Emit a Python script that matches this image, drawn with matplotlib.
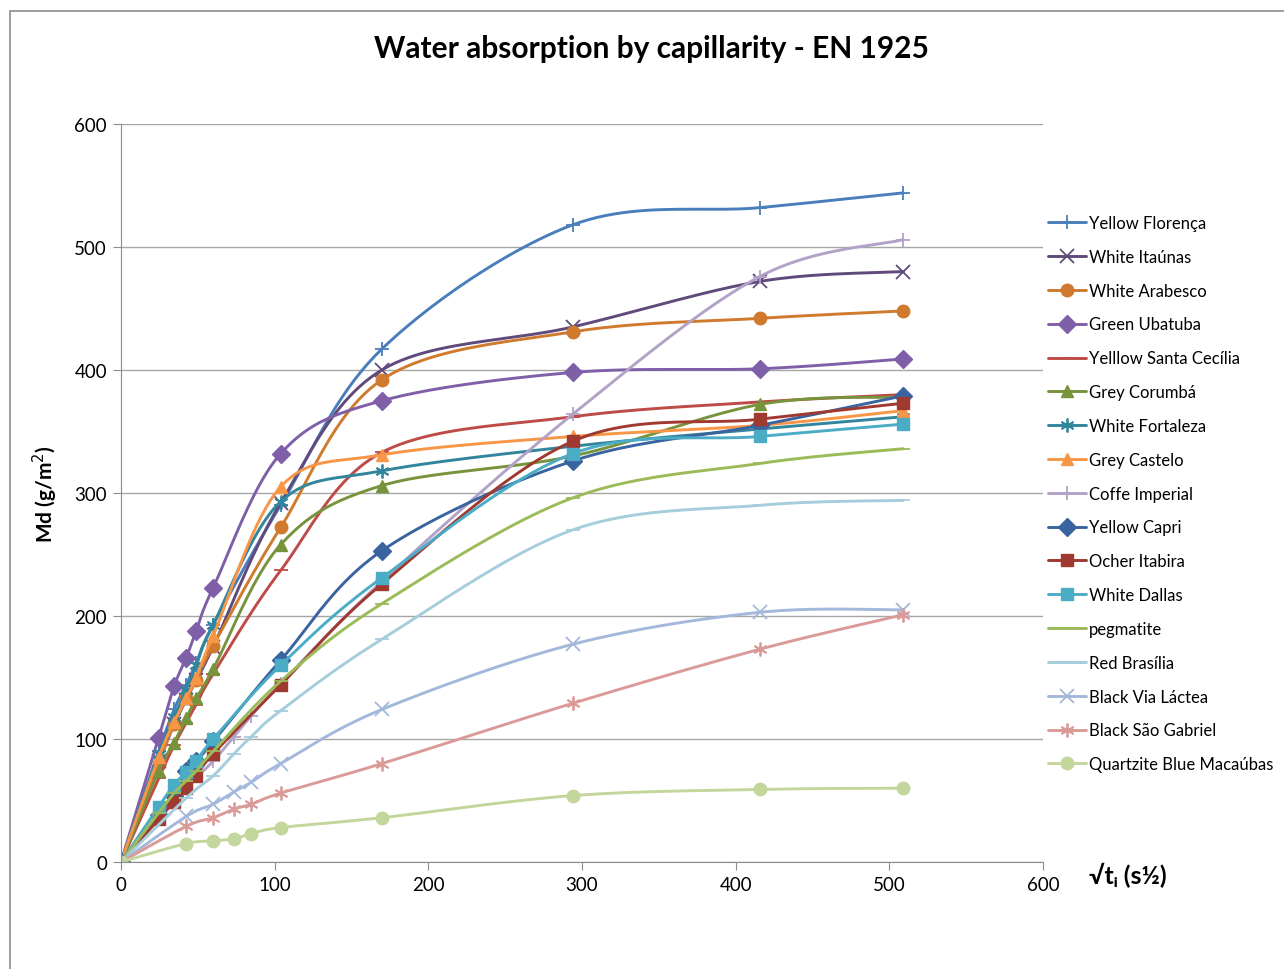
import numpy as np
import matplotlib

matplotlib.use("Agg")
import matplotlib.pyplot as plt
from matplotlib.patches import Rectangle

plt.rcParams["font.family"] = ["Lato", "DejaVu Sans"]

# sqrt(t) sampling points
X_FAST = [0, 24.5, 34.6, 42.4, 49.0, 60.0, 103.9, 169.7, 293.9, 415.7, 509.1]
X_SLOW = [0, 42.4, 60.0, 73.5, 84.9, 103.9, 169.7, 293.9, 415.7, 509.1]

names = [
    "Yellow Florença", "White Itaúnas", "White Arabesco", "Green Ubatuba",
    "Yelllow Santa Cecília", "Grey Corumbá", "White Fortaleza", "Grey Castelo",
    "Coffe Imperial", "Yellow Capri", "Ocher Itabira", "White Dallas",
    "pegmatite", "Red Brasília", "Black Via Láctea", "Black São Gabriel",
    "Quartzite Blue Macaúbas",
]

yellow_florenca = [0, 90, 124, 144, 162, 193, 290, 417, 518, 532, 544]
white_itaunas = [0, 82, 112, 132, 148, 175, 292, 400, 435, 472, 480]
white_arabesco = [0, 80, 112, 133, 148, 176, 272, 392, 431, 442, 448]
green_ubatuba = [0, 101, 143, 166, 188, 223, 332, 375, 398, 401, 409]
yellow_santa_cecilia = [0, 68, 95, 113, 128, 153, 237, 333, 362, 374, 380]
grey_coruba = [0, 74, 97, 117, 133, 157, 258, 306, 330, 372, 378]
white_fortaleza = [0, 88, 118, 140, 160, 193, 293, 318, 338, 352, 362]
grey_castelo = [0, 85, 114, 133, 150, 184, 305, 331, 346, 355, 367]
coffe_imperial = [0, 60, 82, 102, 119, 145, 228, 364, 476, 506]
yellow_capri = [0, 38, 54, 74, 82, 98, 164, 253, 326, 355, 379]
ocher_itabira = [0, 35, 49, 60, 70, 88, 144, 226, 342, 360, 373]
white_dallas = [0, 45, 63, 73, 82, 100, 160, 231, 332, 346, 356]
pegmatite = [0, 40, 56, 66, 74, 90, 147, 210, 296, 324, 336]
red_brasilia = [0, 52, 70, 88, 102, 123, 181, 270, 290, 294]
black_via_lactea = [0, 37, 47, 57, 65, 80, 124, 177, 203, 205]
black_sao_gabriel = [0, 29, 36, 43, 47, 56, 80, 129, 173, 201]
quartzite = [0, 15, 17, 19, 23, 28, 36, 54, 59, 60]

series_y = [
    yellow_florenca, white_itaunas, white_arabesco, green_ubatuba,
    yellow_santa_cecilia, grey_coruba, white_fortaleza, grey_castelo,
    coffe_imperial, yellow_capri, ocher_itabira, white_dallas,
    pegmatite, red_brasilia, black_via_lactea, black_sao_gabriel, quartzite,
]

ASTER = (6, 2, 0)
styles = [
    ("#4A7EBB", "+"), ("#604A7B", "x"), ("#D07A2E", "o"), ("#7F5FA8", "D"),
    ("#BE4B48", "_"), ("#77933C", "^"), ("#31859C", ASTER), ("#F79646", "^"),
    ("#B3A2C7", "+"), ("#3A64A0", "D"), ("#A0392F", "s"), ("#4BACC6", "s"),
    ("#9BBB59", "_"), ("#A5CDDB", "_"), ("#A3B8DA", "x"), ("#DA9A98", ASTER),
    ("#C3D69B", "o"),
]


def smooth(x, y, n=24):
    """Excel-like smoothed line: cubic Bezier through the points."""
    p = np.column_stack([x, y]).astype(float)
    m = len(p)
    t = np.linspace(0, 1, n, endpoint=False)[:, None]
    out = []
    for i in range(m - 1):
        p0, p1, p2, p3 = p[max(i - 1, 0)], p[i], p[i + 1], p[min(i + 2, m - 1)]
        c1 = p1 + (p2 - p0) / 6
        c2 = p2 - (p3 - p1) / 6
        out.append((1 - t) ** 3 * p1 + 3 * (1 - t) ** 2 * t * c1
                   + 3 * (1 - t) * t ** 2 * c2 + t ** 3 * p2)
    out.append(p[-1:])
    pts = np.vstack(out)
    marks = [i * n for i in range(m)]
    return pts[:, 0], pts[:, 1], marks


fig = plt.figure(figsize=(12.84, 9.70), dpi=100)
ax = fig.add_axes([121 / 1284, 107 / 970, 922 / 1284, 738 / 970])

for name, ys, (color, mk) in zip(names, series_y, styles):
    xs = X_FAST if len(ys) == len(X_FAST) else X_SLOW
    sx, sy, marks = smooth(xs, ys)
    thin = mk in ("+", "x", ASTER, "_")
    ax.plot(sx, sy, color=color, lw=2.1, marker=mk, markevery=marks,
            markersize=10 if thin else 9, markeredgewidth=1.3 if thin else 1,
            markerfacecolor=color, markeredgecolor=color, label=name,
            solid_capstyle="round")

ax.set_xlim(0, 600)
ax.set_ylim(0, 600)
ax.set_xticks(np.arange(0, 601, 100))
ax.set_yticks(np.arange(0, 601, 100))
ax.grid(axis="y", color="#A6A6A6", lw=1.0)
ax.set_axisbelow(True)
for s in ("top", "right"):
    ax.spines[s].set_visible(False)
for s in ("left", "bottom"):
    ax.spines[s].set_color("#8C8C8C")
ax.tick_params(colors="#8C8C8C", labelcolor="black", labelsize=13.5, length=6,
               direction="out", pad=4)

ax.set_ylabel("Md (g/m$^2$)", fontsize=15, fontweight="bold", labelpad=10)
fig.text(1089 / 1284, 1 - 875 / 970, "√tᵢ (s½)", fontsize=18, fontweight="bold",
         va="center", ha="left")
fig.suptitle("Water absorption by capillarity - EN 1925", x=651 / 1284,
             y=1 - 49 / 970, va="center", fontsize=21.5, fontweight="bold")

fig.legend(loc="upper left", bbox_to_anchor=(1048 / 1284, 1 - 216 / 970),
           frameon=False, fontsize=12, handlelength=2.3, handletextpad=0.15,
           labelspacing=1.07, borderaxespad=0, borderpad=0)

fig.add_artist(Rectangle((10 / 1284, -0.05), 1.1, 0.05 + 1 - 12 / 970,
                         transform=fig.transFigure, fill=False,
                         edgecolor="#8C8C8C", lw=1.2))

fig.savefig("out.png", dpi=100)
